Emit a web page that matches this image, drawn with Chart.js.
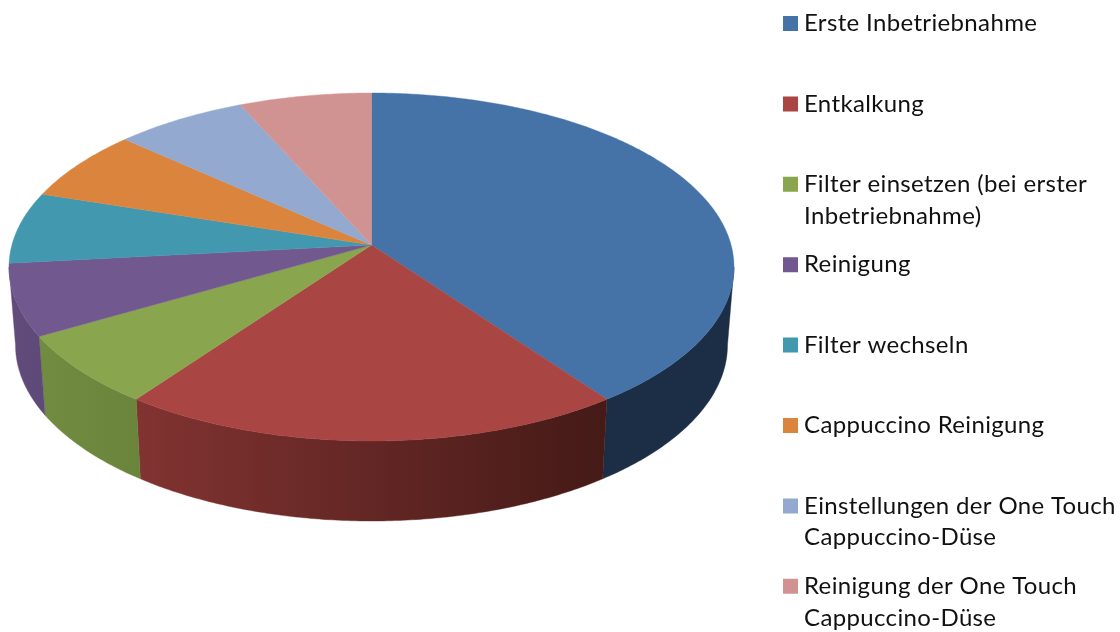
<!DOCTYPE html>
<html><head><meta charset="utf-8">
<style>html,body{margin:0;padding:0;background:#fff;overflow:hidden}#w{width:1120px;height:632px;position:relative}</style>
<script src="https://cdn.jsdelivr.net/npm/chart.js@4/dist/chart.umd.min.js"></script>
</head><body><div id="w"><canvas id="c" width="1120" height="632"></canvas></div>
<script>
const categories = [
  "Erste Inbetriebnahme",
  "Entkalkung",
  "Filter einsetzen (bei erster",
  "Reinigung",
  "Filter wechseln",
  "Cappuccino Reinigung",
  "Einstellungen der One Touch",
  "Reinigung der One Touch"
];
const categoryContinuation = ["", "", "Inbetriebnahme)", "", "", "", "Cappuccino-Düse", "Cappuccino-Düse"];
const values = [6, 3, 1, 1, 1, 1, 1, 1];
const colors = ["#4572A7","#A94543","#89A54E","#71588F","#4198AF","#DB843D","#93A9CF","#D19392"];
const wallLeft  = ["#1B2E46","#813331","#718C41","#604B7A","#2A5F6E","#8A5326","#5C6A82","#83605F"];
const wallRight = ["#1B2E46","#451A17","#6A853B","#5E4A78","#2A5F6E","#8A5326","#5C6A82","#83605F"];

const TOP = {cx:371.5, cy:267, rx:362.5, ry:174};
const RIM = {cx:371.5, cy:345, rx:356, ry:176};
const A = -0.126;               // perspective shift of the pie's apex
const K = Math.sqrt(1 - A*A);
const norm = t => { const d = 1 + A*Math.sin(t); return [Math.cos(t)*K/d, (Math.sin(t)+A)/d]; };
const on = (E, t) => { const [u,v] = norm(t); return [E.cx + E.rx*u, E.cy + E.ry*v]; };
const VIS0 = Math.asin(-A), VIS1 = Math.PI - VIS0;

const FONT_SIZE = 24, FONT_FAMILY = 'Lato, Carlito, Calibri, sans-serif', LINE2 = 31.5, TRACK = '0.35px', TEXT = '#111';

function sample(a, b){ const n = Math.max(2, Math.ceil((b-a)/0.01)), o=[]; for(let i=0;i<=n;i++) o.push(a+(b-a)*i/n); return o; }

const pie3d = {
  id:'pie3d',
  beforeDraw(chart){ chart.ctx.letterSpacing = TRACK; },
  beforeDatasetDraw(chart){
    const ctx = chart.ctx, arcs = chart.getDatasetMeta(0).data;
    // side wall
    arcs.forEach((el,i)=>{
      const a = Math.max(el.startAngle, VIS0), b = Math.min(el.endAngle, VIS1);
      if (b <= a) return;
      const ts = sample(a,b);
      ctx.beginPath();
      ts.forEach((t,k)=>{ const p = on(TOP,t); k?ctx.lineTo(p[0],p[1]):ctx.moveTo(p[0],p[1]); });
      ts.slice().reverse().forEach(t=>{ const p = on(RIM,t); ctx.lineTo(p[0],p[1]); });
      ctx.closePath();
      const xa = on(RIM,a)[0], xb = on(RIM,b)[0];
      const g = ctx.createLinearGradient(Math.min(xa,xb),0,Math.max(xa,xb),0);
      g.addColorStop(0,wallLeft[i]); g.addColorStop(1,wallRight[i]);
      ctx.fillStyle = g; ctx.strokeStyle = g; ctx.lineWidth = 0.4;
      ctx.fill(); ctx.stroke();
    });
    // top face
    const ax = TOP.cx, ay = TOP.cy + TOP.ry*A;
    arcs.forEach((el,i)=>{
      ctx.beginPath();
      ctx.moveTo(ax,ay);
      sample(el.startAngle, el.endAngle).forEach(t=>{ const p = on(TOP,t); ctx.lineTo(p[0],p[1]); });
      ctx.closePath();
      ctx.fillStyle = colors[i]; ctx.strokeStyle = colors[i]; ctx.lineWidth = 0.4;
      ctx.fill(); ctx.stroke();
    });
    return false;
  },
  afterLayout(chart){
    const l = chart.legend, pad = l.options.labels.padding;
    l.left = 789 - pad; l.right = 1120;
    l.top = 11.5 - pad; l.bottom = 3000;
    l.width = l.right - l.left; l.height = l.bottom - l.top;
  },
  afterDraw(chart){
    const ctx = chart.ctx, l = chart.legend, pad = l.options.labels.padding;
    ctx.save();
    ctx.font = FONT_SIZE + 'px ' + FONT_FAMILY;
    ctx.fillStyle = TEXT; ctx.textBaseline = 'middle'; ctx.textAlign = 'left';
    const x = l.left + pad + l.options.labels.boxWidth + FONT_SIZE/2;
    categoryContinuation.forEach((t,i)=>{
      if (t) ctx.fillText(t, x, l.top + pad + i*(FONT_SIZE + pad) + FONT_SIZE/2 + LINE2);
    });
    ctx.restore();
  }
};

new Chart(document.getElementById('c'), {
  type:'pie',
  data:{ labels:categories, datasets:[{ data:values, backgroundColor:colors, borderWidth:0 }] },
  options:{
    responsive:false, animation:false,
    plugins:{
      tooltip:{enabled:false},
      legend:{
        display:true, position:'right', align:'start',
        labels:{
          usePointStyle:true, boxWidth:3, boxHeight:15, padding:56.4, color:TEXT,
          font:{family:FONT_FAMILY, size:FONT_SIZE},
          generateLabels(chart){
            return categories.map((t,i)=>({text:t, fillStyle:colors[i], strokeStyle:colors[i], lineWidth:0, pointStyle:'rect', hidden:false, index:i, fontColor:TEXT}));
          }
        }
      }
    }
  },
  plugins:[pie3d]
});
</script></body></html>
